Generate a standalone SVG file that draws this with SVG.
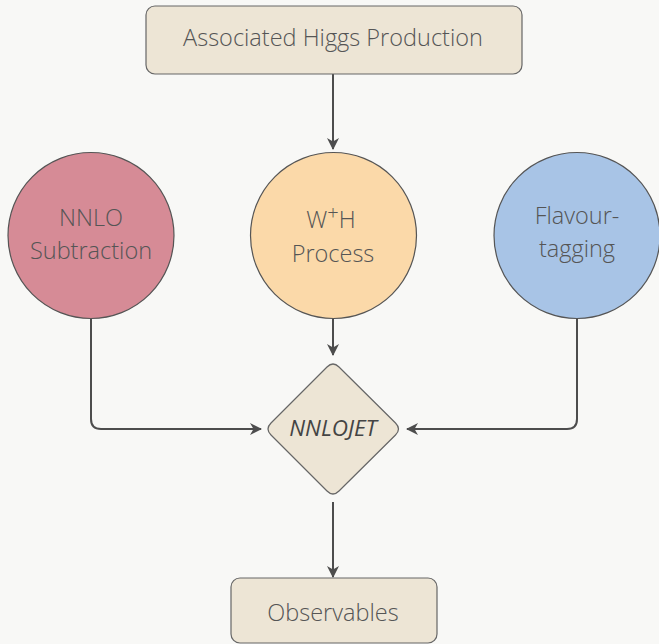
<svg xmlns="http://www.w3.org/2000/svg" width="659" height="644" viewBox="0 0 659 644">
<defs>
<style>
.bg{fill:#f8f8f6}
.box{fill:#ede5d5;stroke:#666;stroke-width:1.2}
.circ{stroke:#555;stroke-width:1.2}
.t{font-family:"Open Sans","Noto Sans",sans-serif;font-weight:300;font-size:23.5px;fill:#555;text-anchor:middle}
.it{font-style:italic;font-weight:400;font-size:22.5px;fill:#444}
.edge{fill:none;stroke:#4d4d4d;stroke-width:2}
</style>
<marker id="ah" viewBox="0 0 12 12" refX="11" refY="6" markerWidth="12" markerHeight="12" markerUnits="userSpaceOnUse" orient="auto">
<path d="M0,0 L12,6 L0,12 L3.5,6 z" fill="#4d4d4d"/>
</marker>
</defs>
<rect class="bg" x="0" y="0" width="659" height="644"/>
<g id="connectors">
<path class="edge" d="M333,74 V149" marker-end="url(#ah)"/>
<path class="edge" d="M333,318 V355" marker-end="url(#ah)"/>
<path class="edge" d="M91,318 V419 Q91,429 101,429 H261" marker-end="url(#ah)"/>
<path class="edge" d="M577,318 V419 Q577,429 567,429 H407" marker-end="url(#ah)"/>
<path class="edge" d="M333,502 V577" marker-end="url(#ah)"/>
</g>
<g id="associated-higgs">
<rect class="box" x="146" y="6" width="376" height="68" rx="9"/>
<text class="t" x="333" y="46">Associated Higgs Production</text>
</g>
<g id="nnlo-subtraction">
<circle class="circ" cx="91" cy="235.5" r="83" fill="#d68b96"/>
<text class="t" x="91" y="226">NNLO</text>
<text class="t" x="91" y="259">Subtraction</text>
</g>
<g id="wh-process">
<circle class="circ" cx="333.5" cy="235.5" r="83" fill="#fbd9a9"/>
<text class="t" x="331" y="228">W<tspan font-size="20" dy="-8">+</tspan><tspan dy="8">H</tspan></text>
<text class="t" x="333" y="262">Process</text>
</g>
<g id="flavour-tagging">
<circle class="circ" cx="577" cy="235.5" r="83" fill="#a8c4e6"/>
<text class="t" x="577" y="224">Flavour-</text>
<text class="t" x="577" y="257">tagging</text>
</g>
<g id="nnlojet">
<path class="box" d="M327,367 Q333,361 339,367 L395.5,423 Q401.5,429 395.5,435 L339,491 Q333,497 327,491 L271,435 Q265,429 271,423 Z"/>
<text class="t it" x="333" y="436">NNLOJET</text>
</g>
<g id="observables">
<rect class="box" x="231" y="578" width="206" height="65" rx="9"/>
<text class="t" x="333" y="621">Observables</text>
</g>
</svg>
